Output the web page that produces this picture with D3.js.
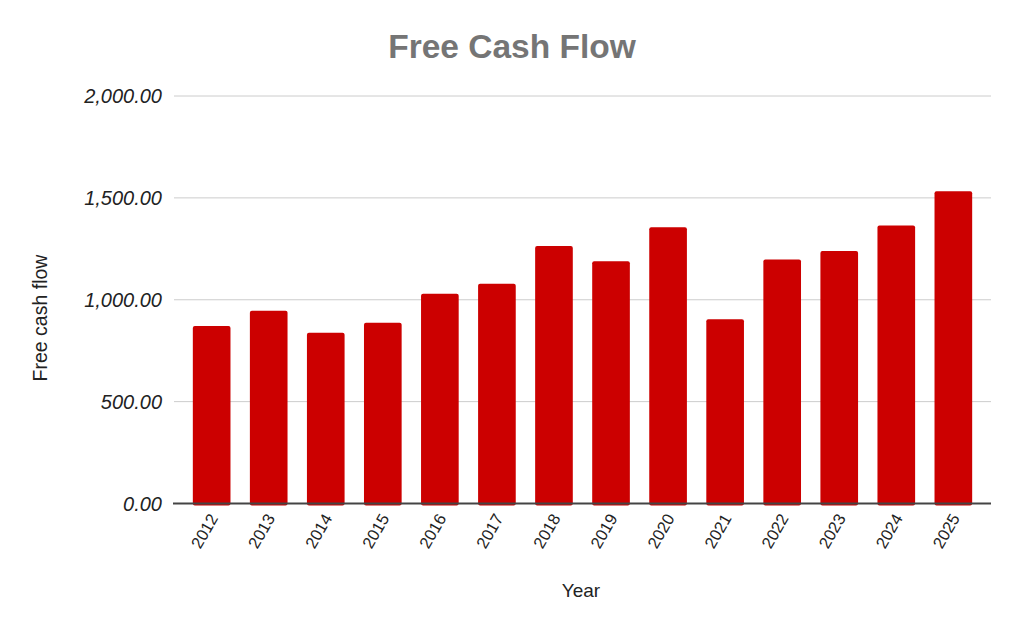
<!DOCTYPE html>
<html>
  <head>
    <title>Free Cash Flow</title>
    <style>
      body { margin: 0; background: #fff; }
      text { font-family: "Liberation Sans", Arial, sans-serif; }
    </style>
  </head>
  <body>
    <script src="https://d3js.org/d3.v7.min.js"></script>
    <script>
      const years = ["2012", "2013", "2014", "2015", "2016", "2017", "2018",
                     "2019", "2020", "2021", "2022", "2023", "2024", "2025"];
      const freeCashFlow = [871, 946, 838, 887, 1030, 1079, 1264,
                            1189, 1356, 904, 1197, 1239, 1365, 1532];
      const yTicks = [0, 500, 1000, 1500, 2000];

      const width = 1023;
      const height = 632;
      const plotLeft = 174;
      const plotRight = 991;
      const plotTop = 96;
      const plotBottom = 503.5;

      const svg = d3.select("body").append("svg")
        .attr("width", width)
        .attr("height", height);

      const x = d3.scaleBand()
        .domain(years)
        .range([plotLeft, plotRight])
        .paddingInner(0.34)
        .paddingOuter(0.33);

      const y = d3.scaleLinear()
        .domain([0, 2000])
        .range([plotBottom, plotTop]);

      const fmt = d3.format(",.2f");

      // gridlines
      svg.append("g")
        .selectAll("line")
        .data(yTicks.filter((d) => d > 0))
        .enter()
        .append("line")
        .attr("x1", plotLeft)
        .attr("x2", plotRight)
        .attr("y1", (d) => y(d))
        .attr("y2", (d) => y(d))
        .attr("stroke", "#cccccc")
        .attr("stroke-width", 1);

      // y tick labels
      svg.append("g")
        .selectAll("text")
        .data(yTicks)
        .enter()
        .append("text")
        .attr("x", 162)
        .attr("y", (d) => y(d) + 7)
        .attr("text-anchor", "end")
        .attr("font-size", 20)
        .attr("font-style", "italic")
        .attr("fill", "#222")
        .text((d) => fmt(d));

      // bars
      svg.append("g")
        .selectAll("rect")
        .data(freeCashFlow)
        .enter()
        .append("rect")
        .attr("x", (d, i) => x(years[i]))
        .attr("y", (d) => y(d))
        .attr("width", x.bandwidth())
        .attr("height", (d) => y(0) - y(d) + 2)
        .attr("rx", 2)
        .attr("fill", "#cc0000");

      // baseline
      svg.append("line")
        .attr("x1", plotLeft - 1)
        .attr("x2", plotRight)
        .attr("y1", plotBottom)
        .attr("y2", plotBottom)
        .attr("stroke", "#444")
        .attr("stroke-width", 2);

      // x tick labels
      svg.append("g")
        .selectAll("text")
        .data(years)
        .enter()
        .append("text")
        .attr("transform", (d) => {
          const cx = x(d) + x.bandwidth() / 2 + 7;
          return "translate(" + cx + "," + 518 + ") rotate(-60)";
        })
        .attr("text-anchor", "end")
        .attr("font-size", 16.5)
        .attr("fill", "#222")
        .text((d) => d);

      // titles
      svg.append("text")
        .attr("x", 512)
        .attr("y", 58)
        .attr("text-anchor", "middle")
        .attr("font-size", 33.5)
        .attr("font-weight", "bold")
        .attr("fill", "#757575")
        .text("Free Cash Flow");

      svg.append("text")
        .attr("x", 581)
        .attr("y", 597)
        .attr("text-anchor", "middle")
        .attr("font-size", 19)
        .attr("fill", "#222")
        .text("Year");

      svg.append("text")
        .attr("transform", "translate(47,318) rotate(-90)")
        .attr("text-anchor", "middle")
        .attr("font-size", 19.5)
        .attr("fill", "#222")
        .text("Free cash flow");
    </script>
  </body>
</html>
